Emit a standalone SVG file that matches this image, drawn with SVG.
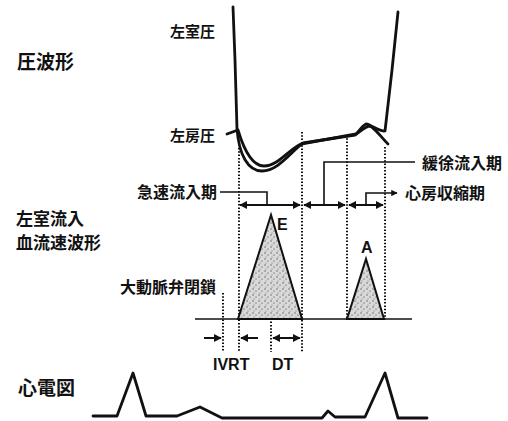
<svg xmlns="http://www.w3.org/2000/svg" width="508" height="421" viewBox="0 0 508 421">
<defs>
<style>
.jp{font-family:"Noto Sans CJK JP","Noto Sans",sans-serif;font-weight:bold;fill:#111}
.la{font-family:"Liberation Sans",Arial,sans-serif;font-weight:bold;fill:#111}
.curve{fill:none;stroke:#111;stroke-width:2.8;stroke-linejoin:round;stroke-linecap:round}
.dot{fill:none;stroke:#111;stroke-width:2;stroke-dasharray:1.5 1.8}
.ln{fill:none;stroke:#111;stroke-width:1.6}
.arr{fill:none;stroke:#111;stroke-width:2}
.wave{stroke:#111;stroke-width:2;stroke-linejoin:miter}
</style>
<pattern id="stip" width="6" height="6" patternUnits="userSpaceOnUse">
<rect width="6" height="6" fill="#d9d9d9"/>
<circle cx="1" cy="1" r="0.7" fill="#555"/>
<circle cx="4" cy="3" r="0.6" fill="#333"/>
<circle cx="2" cy="5" r="0.5" fill="#666"/>
</pattern>
<marker id="ah" viewBox="0 0 10 10" refX="9" refY="5" markerWidth="4" markerHeight="4" orient="auto-start-reverse">
<path d="M0,0 L10,5 L0,10 z" fill="#111"/>
</marker>
</defs>
<rect width="508" height="421" fill="#fff"/>

<g id="labels">
<text class="jp" x="17" y="69" font-size="19">圧波形</text>
<text class="jp" x="16" y="225" font-size="17">左室流入</text>
<text class="jp" x="16" y="249" font-size="17">血流速波形</text>
<text class="jp" x="18" y="395" font-size="19">心電図</text>
</g>

<g id="pressure-curves">
<path id="lv-pressure" class="curve" d="M233,7 L235,60 L237,129 C239,155 248,171 262,171 C278,171 290,153 303,143 L355,135 C361,131 366,126 370,126 C376,127 380,132 385,131 L392,70 L398,12"/>
<path id="la-pressure" class="curve" d="M227,134 L238,130 C244,150 252,166 264,166 C278,166 288,150 301,144 L356,134 C360,130 362,126 366,124 C372,124 380,136 388,144"/>
<text class="jp" x="170" y="37" font-size="15">左室圧</text>
<text class="jp" x="170" y="141" font-size="15">左房圧</text>
</g>

<g id="dotted-lines">
<line class="dot" x1="239" y1="148" x2="239" y2="352"/>
<line class="dot" x1="302" y1="132" x2="302" y2="352"/>
<line class="dot" x1="347" y1="135" x2="347" y2="319"/>
<line class="dot" x1="385" y1="147" x2="385" y2="319"/>
<line class="dot" x1="271" y1="216" x2="271" y2="352"/>
<line class="dot" x1="223" y1="293" x2="223" y2="352"/>
</g>

<g id="flow-waves">
<path id="e-wave" class="wave" d="M238,319 L271,215 L302,319 Z" fill="url(#stip)"/>
<path id="a-wave" class="wave" d="M347,319 L366,259 L384,319 Z" fill="url(#stip)"/>
<line class="ln" x1="195" y1="319" x2="412" y2="319"/>
<text class="la" x="277" y="230" font-size="16">E</text>
<text class="la" x="361" y="253" font-size="16">A</text>
</g>

<g id="phases">
<line class="arr" x1="240" y1="205" x2="300" y2="205" marker-start="url(#ah)" marker-end="url(#ah)"/>
<line class="arr" x1="304" y1="205" x2="345" y2="205" marker-start="url(#ah)" marker-end="url(#ah)"/>
<line class="arr" x1="349" y1="205" x2="383" y2="205" marker-start="url(#ah)" marker-end="url(#ah)"/>
<polyline class="ln" points="220,192 267,192 267,205"/>
<polyline class="ln" points="415,162 324,162 324,205"/>
<polyline class="ln" points="366,205 366,193 397,193" marker-end="url(#ah)"/>
<text class="jp" x="137" y="198" font-size="16">急速流入期</text>
<text class="jp" x="422" y="169" font-size="16">緩徐流入期</text>
<text class="jp" x="405" y="199" font-size="16">心房収縮期</text>
<text class="jp" x="120" y="293" font-size="16">大動脈弁閉鎖</text>
</g>

<g id="intervals">
<line class="arr" x1="204" y1="338" x2="221" y2="338" marker-end="url(#ah)"/>
<line class="arr" x1="258" y1="338" x2="241" y2="338" marker-end="url(#ah)"/>
<line class="arr" x1="273" y1="338" x2="300" y2="338" marker-start="url(#ah)" marker-end="url(#ah)"/>
<text class="la" x="213" y="370" font-size="16">IVRT</text>
<text class="la" x="272" y="370" font-size="16">DT</text>
</g>

<g id="ecg">
<path class="curve" d="M93,416 L117,416 L133,373 L146,416 L177,416 L200,407 L222,418 L322,418 L328,411 L335,417 L365,417 L385,373 L398,418 L427,418"/>
</g>
</svg>
